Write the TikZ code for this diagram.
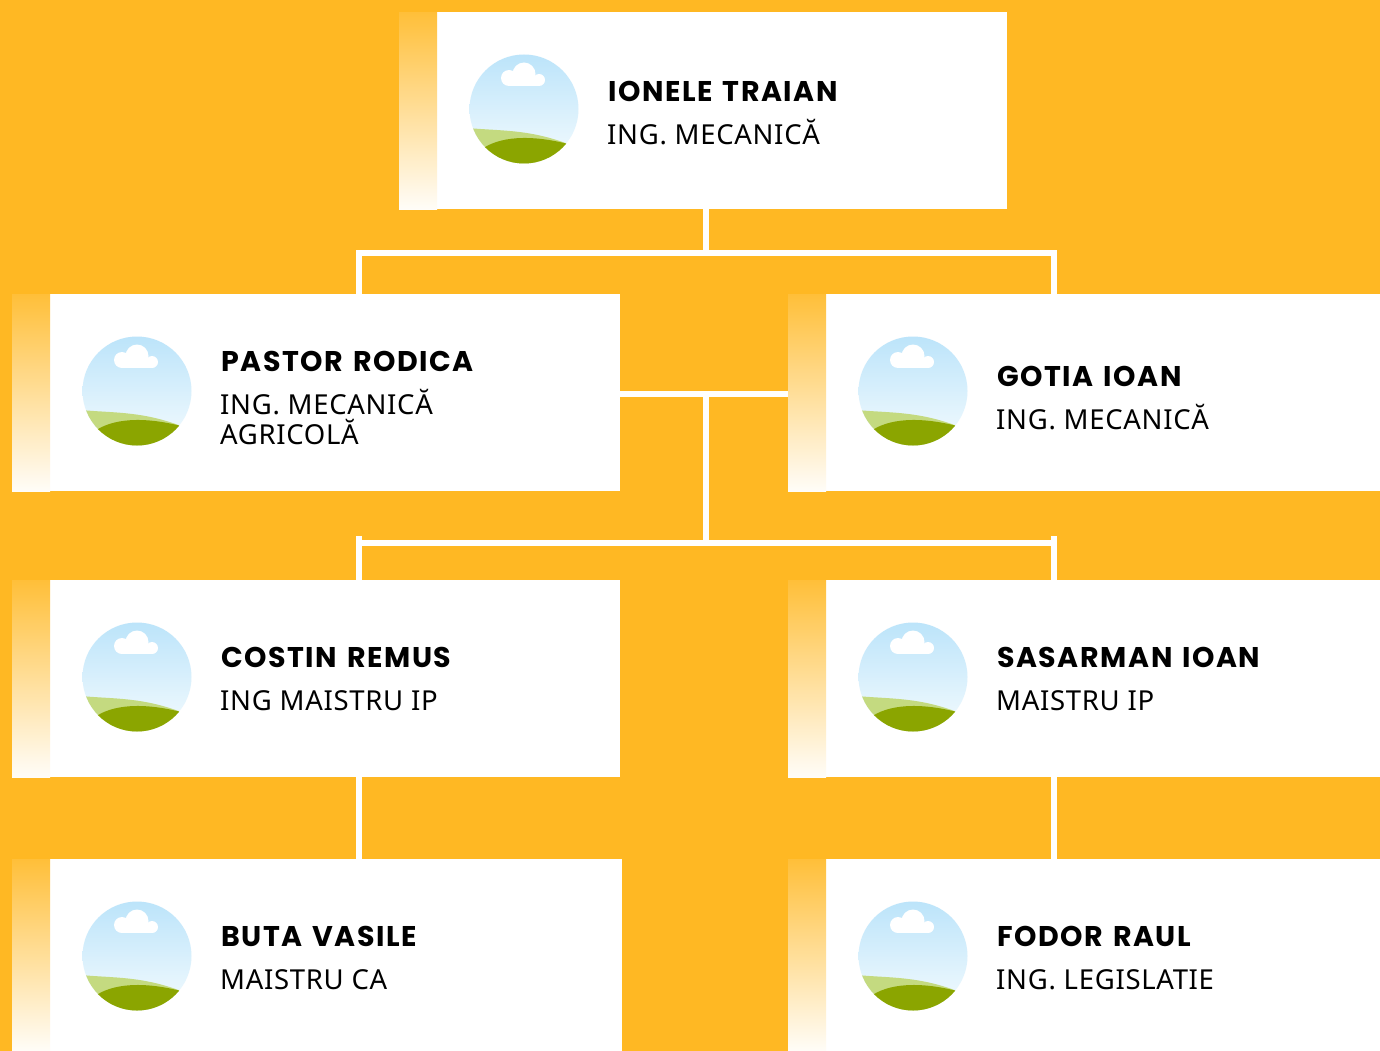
\documentclass[tikz,border=0pt]{standalone}
\usepackage{fontspec}
\setmainfont[LetterSpace=2.5]{Noto Sans}
\newfontfamily\namefont[LetterSpace=5.5,WordSpace=1.3]{Poppins Bold}
\usetikzlibrary{positioning}
\definecolor{bgorange}{HTML}{FFB823}
\definecolor{skytop}{HTML}{BCE4FA}
\definecolor{skylow}{HTML}{F4FBFE}
\definecolor{hilllight}{HTML}{C4DA80}
\definecolor{hilldark}{HTML}{8BA500}
\tikzset{
	card/.style={fill=white,inner sep=0,anchor=north west},
	stripe/.style={top color=bgorange!90!white,bottom color=bgorange!3!white,inner sep=0,anchor=north west,minimum width=38pt},
	namelabel/.style={anchor=base west,inner sep=0,font=\namefont\fontsize{28.5}{28.5}\selectfont},
	rolelabel/.style={anchor=base west,inner sep=0,font=\fontsize{27.5}{27.5}\selectfont},
	link/.style={draw=white,line width=6pt},
	avatar/.pic={
		\shade[top color=skytop,bottom color=skylow] (0,0) circle (54.5);
		\begin{scope}
			\clip (0,0) circle (54.5);
			\fill[hilllight] (-56,19) .. controls (-25,22) and (5,20) .. (44,35) -- (44,60) -- (-56,60) -- cycle;
			\fill[hilldark] (-42,40) .. controls (-25,28) and (5,25) .. (44,35) -- (44,60) -- (-42,60) -- cycle;
		\end{scope}
		\fill[white] (0,-35) circle (11.5);
		\fill[white] (-15,-31) circle (8);
		\fill[white] (15,-29) circle (6);
		\fill[white] (-15,-31) rectangle (15,-23);
	}
}

\begin{document}
\begin{tikzpicture}[x=1pt,y=-1pt]
	\fill[bgorange] (0,0) rectangle (1380,1051);
	\useasboundingbox (0,0) rectangle (1380,1051);

	\foreach \nm/\x/\y/\w/\h/\ty/\name/\role in {
		ionele/399/12/608/197/102/IONELE TRAIAN/ING. MECANICĂ,
		pastor/12/294/608/197/371/PASTOR RODICA/ING. MECANICĂ,
		gotia/788/294/592/197/386/GOTIA IOAN/ING. MECANICĂ,
		costin/12/580/608/197/667/COSTIN REMUS/ING MAISTRU IP,
		sasarman/788/580/592/197/667/SASARMAN IOAN/MAISTRU IP,
		buta/12/859/610/192/946/BUTA VASILE/MAISTRU CA,
		fodor/788/859/592/192/946/FODOR RAUL/ING. LEGISLATIE}{
		\node[card,minimum width=\w pt,minimum height=\h pt] (\nm) at (\x,\y) {};
		\node[stripe,minimum height=\h pt] (\nm-strip) at (\nm.north west) {};
		\pic at (\x+125,\y+97) {avatar};
		\node[namelabel] (\nm-name) at (\x+209,\ty) {\name};
		\node[rolelabel] (\nm-role) at (\x+208,\ty+43) {\role};
	}
	\node[rolelabel] (pastor-role2) at (220,444) {AGRICOLĂ};

	\coordinate (busa) at (706,253);
	\coordinate (hub) at (706,394);
	\coordinate (busb) at (706,543);
	\coordinate (lefttop) at (359,536);
	\coordinate (righttop) at (1054,536);

	%links between the cards
	\draw[link] (ionele.south -| busa)--(busa);
	\draw[link] (pastor.north -| lefttop)--(lefttop |- busa)--(righttop |- busa)--(gotia.north -| righttop);
	\draw[link] (pastor.east |- hub)--(gotia.west |- hub);
	\draw[link] (hub)--(busb);
	\draw[link] (lefttop |- busb)--(righttop |- busb);
	\draw[link] (lefttop)--(costin.north -| lefttop);
	\draw[link] (righttop)--(sasarman.north -| righttop);
	\draw[link] (costin.south -| lefttop)--(buta.north -| lefttop);
	\draw[link] (sasarman.south -| righttop)--(fodor.north -| righttop);
\end{tikzpicture}
\end{document}
